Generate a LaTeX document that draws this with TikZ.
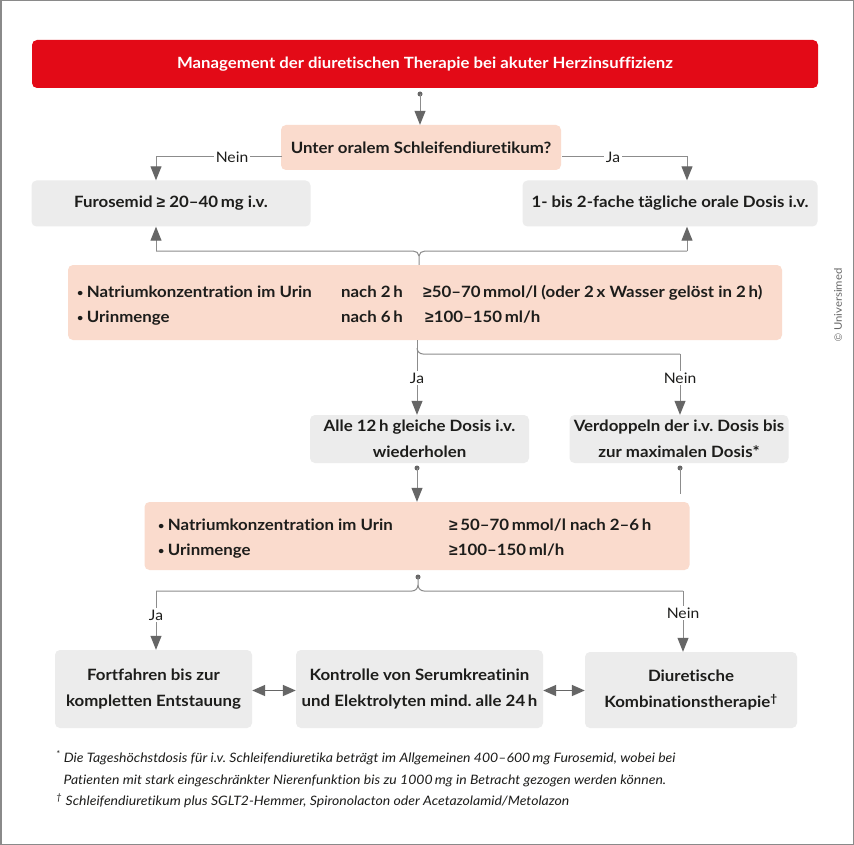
\documentclass[tikz,border=0pt]{standalone}
\usepackage{fontspec}
\setmainfont{Lato}[FakeStretch=1.08, Ligatures=NoCommon]
\newfontfamily\libsans{Liberation Sans}
\newcommand\GE{{\libsans ≥}}
\newcommand\bul{\raisebox{0.12ex}{\fontsize{10}{10}\selectfont •}\hspace{3.5pt}}
\usetikzlibrary{arrows.meta}
\frenchspacing
\definecolor{tred}{HTML}{E30A17}
\definecolor{salmon}{HTML}{FADBCD}
\definecolor{gbox}{HTML}{ECECEC}
\definecolor{lgray}{HTML}{8C8C8C}
\definecolor{agray}{HTML}{666666}
\definecolor{txt}{HTML}{1D1D1B}
\definecolor{framec}{HTML}{8A8A8A}
\tikzset{
  base/.style={rounded corners=5pt, inner sep=0pt, align=center, text=txt,
    font=\bfseries\fontsize{15.6}{26}\selectfont},
  titlebox/.style={base, fill=tred, text=white, font=\bfseries\fontsize{15.5}{18}\selectfont},
  sbox/.style={base, fill=salmon},
  gboxs/.style={base, fill=gbox},
  conn/.style={draw=lgray, line width=1pt},
  arr/.style={conn, -{Triangle[width=11pt,length=14pt,color=agray]}},
  darr/.style={draw=agray, line width=1.6pt, {Triangle[width=11pt,length=13pt,color=agray]}-{Triangle[width=11pt,length=13pt,color=agray]}},
  lbl/.style={fill=white, inner sep=2pt, text=txt, font=\fontsize{14.5}{17}\selectfont},
  rowtxt/.style={inner sep=0pt, anchor=base west, text=txt, font=\bfseries\fontsize{15.6}{17}\selectfont},
  foot/.style={inner sep=0pt, anchor=base west, text=txt, font=\itshape\fontsize{13}{15}\selectfont},
  dotc/.style={fill=agray},
}
\begin{document}
\begin{tikzpicture}[x=1pt,y=-1pt]
\useasboundingbox (0,0) rectangle (854,845);
\fill[white] (0,0) rectangle (854,845);
\draw[framec, line width=1.5pt] (0.75,0.75) rectangle (853.25,844.25);

% boxes
\node[titlebox, minimum width=786pt, minimum height=48pt] (title) at (425,64) {Management der diuretischen Therapie bei akuter Herzinsuffizienz};
\node[sbox, minimum width=280pt, minimum height=45pt] (q) at (421,147.5) {Unter oralem Schleifendiuretikum?};
\node[gboxs, minimum width=279pt, minimum height=46pt] (furo) at (171,203.5) {Furosemid \GE\ 20–40\,mg i.v.};
\node[gboxs, minimum width=295pt, minimum height=46pt] (oral) at (670,203.5) {1- bis 2-fache tägliche orale Dosis i.v.};
\node[sbox, minimum width=714pt, minimum height=75pt] (na1) at (425,302.5) {};
\node[gboxs, minimum width=219pt, minimum height=48pt] (rep) at (419.5,439) {Alle 12\,h gleiche Dosis i.v.\\wiederholen};
\node[gboxs, minimum width=219pt, minimum height=48pt] (dbl) at (679,439) {Verdoppeln der i.v. Dosis bis\\zur maximalen Dosis*};
\node[sbox, minimum width=545pt, minimum height=68pt] (na2) at (417,536) {};
\node[gboxs, minimum width=197pt, minimum height=78pt] (fort) at (153.5,689) {Fortfahren bis zur\\kompletten Entstauung};
\node[gboxs, minimum width=247pt, minimum height=78pt] (kon) at (419.5,689) {Kontrolle von Serumkreatinin\\und Elektrolyten mind. alle 24\,h};
\node[gboxs, minimum width=212pt, minimum height=76pt] (komb) at (691,690) {Diuretische\\Kombinationstherapie\textsuperscript{†}};

% text rows in na1
\node[rowtxt] (n1a) at (77,297) {\bul Natriumkonzentration im Urin};
\node[rowtxt, anchor=base east] (n1b) at (403,297) {nach 2\,h};
\node[rowtxt] (n1c) at (423,297) {\GE50–70\,mmol/l (oder 2\,x Wasser gelöst in 2\,h)};
\node[rowtxt] (n2a) at (77,322) {\bul Urinmenge};
\node[rowtxt, anchor=base east] (n2b) at (403,322) {nach 6\,h};
\node[rowtxt] (n2c) at (425,322) {\GE100–150\,ml/h};
% text rows in na2
\node[rowtxt] (m1a) at (158,530) {\bul Natriumkonzentration im Urin};
\node[rowtxt] (m1c) at (449,530) {\GE\,50–70\,mmol/l nach 2–6\,h};
\node[rowtxt] (m2a) at (158,555) {\bul Urinmenge};
\node[rowtxt] (m2c) at (449,555) {\GE100–150\,ml/h};

% connectors: title -> question
\coordinate (d0) at (420,94);
\fill[dotc] (d0) circle (2.5pt);
\draw[arr] (d0) -- (d0 |- q.north);

% question -> left / right
\coordinate (qL) at (282,157);
\coordinate (qR) at (562,157);
\coordinate (cL) at (156,157);
\coordinate (cR) at (687,157);
\draw[arr] (qL) -- (cL) -- (cL |- furo.north);
\draw[arr] (qR) -- (cR) -- (cR |- oral.north);
\node[lbl] (lnein1) at (232,157) {Nein};
\node[lbl] (lja1) at (613,157) {Ja};

% na1 -> furo / oral (brace)
\coordinate (bL) at (156,251);
\coordinate (bR) at (687,251);
\coordinate (bC) at (419,256);
\draw[conn] (bL) -- (413,251) to[out=0,in=90] (bC) -- (bC |- na1.north);
\draw[conn] (bR) -- (425,251) to[out=180,in=90] (bC);
\draw[arr] (bL) -- (bL |- furo.south);
\draw[arr] (bR) -- (bR |- oral.south);

% na1 -> rep / dbl
\coordinate (m0) at (417,340);
\coordinate (mR) at (680,354);
\draw[arr] (m0) -- (m0 |- rep.north);
\draw[conn] (417,348) to[out=-90,in=180] (423,354) -- (mR);
\draw[arr] (mR) -- (mR |- dbl.north);
\node[lbl] (lja2) at (417,378) {Ja};
\node[lbl] (lnein2) at (680,378) {Nein};

% rep -> na2 ; dbl stub
\coordinate (d1) at (417,468);
\fill[dotc] (d1) circle (2.5pt);
\draw[arr] (d1) -- (d1 |- na2.north);
\coordinate (d2) at (680,468);
\fill[dotc] (d2) circle (2.5pt);
\draw[conn] (d2) -- (680,494);

% na2 -> fort / komb
\coordinate (d3) at (418,577);
\fill[dotc] (d3) circle (2.5pt);
\coordinate (eL) at (156,591);
\coordinate (eR) at (683,591);
\draw[conn] (d3) -- (418,585) to[out=-90,in=0] (412,591) -- (eL);
\draw[conn] (418,585) to[out=-90,in=180] (424,591) -- (eR);
\draw[arr] (eL) -- (eL |- fort.north);
\draw[arr] (eR) -- (eR |- komb.north);
\node[lbl] (lja3) at (156,615) {Ja};
\node[lbl] (lnein3) at (683,613) {Nein};

% double arrows
\draw[darr] (fort.east |- 0,690.5) -- (kon.west |- 0,690.5);
\draw[darr] (kon.east |- 0,690.5) -- (komb.west |- 0,690.5);

% footnotes
\node[foot] (f1) at (56,762) {\textsuperscript{*} Die Tageshöchstdosis für i.v. Schleifendiuretika beträgt im Allgemeinen 400–600\,mg Furosemid, wobei bei};
\node[foot] (f2) at (63.5,784.5) {Patienten mit stark eingeschränkter Nierenfunktion bis zu 1000\,mg in Betracht gezogen werden können.};
\node[foot] (f3) at (56,805) {\textsuperscript{†} Schleifendiuretikum plus SGLT2-Hemmer, Spironolacton oder Acetazolamid/Metolazon};

% copyright
\node[rotate=90, inner sep=0pt, text=agray, font=\fontsize{10.5}{12}\selectfont] (copy) at (838,305) {{\libsans ©} Universimed};
\end{tikzpicture}
\end{document}
